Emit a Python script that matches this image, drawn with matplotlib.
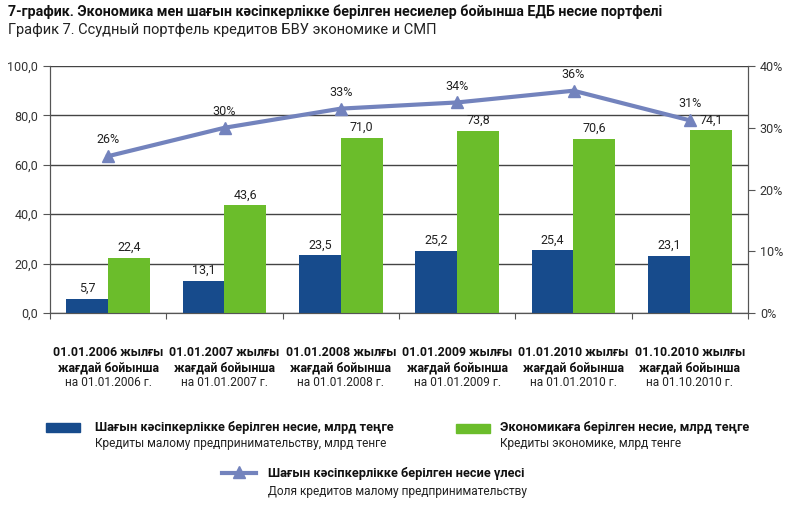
import matplotlib
matplotlib.use("Agg")
import matplotlib.pyplot as plt
import numpy as np
from matplotlib.patches import Rectangle
from matplotlib.lines import Line2D

plt.rcParams['font.family'] = ['Roboto', 'DejaVu Sans']

cats_kz = ["01.01.2006 жылғы", "01.01.2007 жылғы", "01.01.2008 жылғы",
           "01.01.2009 жылғы", "01.01.2010 жылғы", "01.10.2010 жылғы"]
cats_ru = ["на 01.01.2006 г.", "на 01.01.2007 г.", "на 01.01.2008 г.",
           "на 01.01.2009 г.", "на 01.01.2010 г.", "на 01.10.2010 г."]
small_biz = [5.7, 13.1, 23.5, 25.2, 25.4, 23.1]
economy = [22.4, 43.6, 71.0, 73.8, 70.6, 74.1]
share = [25.4, 30.0, 33.1, 34.1, 36.0, 31.2]
share_labels = ["26%", "30%", "33%", "34%", "36%", "31%"]

BLUE = "#174b8c"
GREEN = "#6bbd2b"
LINEC = "#7383bd"

fig = plt.figure(figsize=(8, 5.07), dpi=100)
ax = fig.add_axes([0.0625, 0.3826, 0.8725, 0.4872])
ax2 = ax.twinx()

x = np.arange(len(cats_kz))
w = 0.36
ax.bar(x - w/2, small_biz, w, color=BLUE, zorder=3)
ax.bar(x + w/2, economy, w, color=GREEN, zorder=3)
for xi, v in zip(x, small_biz):
    ax.text(xi - w/2, v + 1.5, f"{v:.1f}".replace('.', ','), ha='center', va='bottom', fontsize=9, color='#222')
for xi, v in zip(x, economy):
    ax.text(xi + w/2, v + 1.5, f"{v:.1f}".replace('.', ','), ha='center', va='bottom', fontsize=9, color='#222')

ax.set_xlim(-0.5, 5.5)
ax.set_ylim(0, 100)
ax.set_yticks([0, 20, 40, 60, 80, 100])
ax.set_yticklabels(["0,0", "20,0", "40,0", "60,0", "80,0", "100,0"], fontsize=9, color='#333')
ax.yaxis.grid(True, color='#444', linewidth=1.0, zorder=0)
ax.set_axisbelow(True)
ax.set_xticks(np.arange(-0.5, 6, 1))
ax.set_xticklabels([])
ax.tick_params(axis='x', length=4, color='#555')
ax.tick_params(axis='y', length=5, color='#555')
ax.spines['top'].set_visible(False)
ax2.spines['top'].set_visible(False)
for a in (ax, ax2):
    for s in ['left', 'right', 'bottom']:
        a.spines[s].set_color('#555')

ax2.plot(x, share, color=LINEC, linewidth=3, marker='^', markersize=9, zorder=4)
for xi, v, lab in zip(x, share, share_labels):
    ax2.text(xi, v + 1.6, lab, ha='center', va='bottom', fontsize=9, color='#222')
ax2.set_ylim(0, 40)
ax2.set_yticks([0, 10, 20, 30, 40])
ax2.set_yticklabels(["0%", "10%", "20%", "30%", "40%"], fontsize=9, color='#333')
ax2.tick_params(axis='y', length=5, color='#555')

# category labels
for xi, kz, ru in zip(x, cats_kz, cats_ru):
    xf = 0.0625 + 0.8725 * (xi + 0.5) / 6
    fig.text(xf, 1 - 353/507, kz, ha='center', va='center', fontsize=8.9, fontweight='bold', color='#111')
    fig.text(xf, 1 - 368/507, "жағдай бойынша", ha='center', va='center', fontsize=8.9, fontweight='bold', color='#111')
    fig.text(xf, 1 - 383/507, ru, ha='center', va='center', fontsize=8.6, color='#222')

# title
fig.text(8/800, 1 - 12/507, "7-график. Экономика мен шағын кәсіпкерлікке берілген несиелер бойынша ЕДБ несие портфелі",
         ha='left', va='center', fontsize=10.25, fontweight='bold', color='#111')
fig.text(8/800, 1 - 30/507, "График 7. Ссудный портфель кредитов БВУ экономике и СМП",
         ha='left', va='center', fontsize=10.5, color='#222')

# legend
fig.patches.append(Rectangle((46/800, 1 - 432/507), 34/800, 9/507, transform=fig.transFigure, color=BLUE))
fig.text(95/800, 1 - 427/507, "Шағын кәсіпкерлікке берілген несие, млрд теңге", ha='left', va='center',
         fontsize=9.2, fontweight='bold', color='#111')
fig.text(95/800, 1 - 443/507, "Кредиты малому предпринимательству, млрд тенге", ha='left', va='center',
         fontsize=8.6, color='#222')
fig.patches.append(Rectangle((456/800, 1 - 433/507), 34/800, 9/507, transform=fig.transFigure, color=GREEN))
fig.text(500/800, 1 - 428/507, "Экономикаға берілген несие, млрд теңге", ha='left', va='center',
         fontsize=9.2, fontweight='bold', color='#111')
fig.text(500/800, 1 - 444/507, "Кредиты экономике, млрд тенге", ha='left', va='center',
         fontsize=8.6, color='#222')
fig.lines.append(Line2D([222/800, 256/800], [1 - 473/507, 1 - 473/507], transform=fig.transFigure,
                        color=LINEC, linewidth=3))
fig.lines.append(Line2D([239/800], [1 - 472/507], transform=fig.transFigure, color=LINEC,
                        marker='^', markersize=8, linestyle='none'))
fig.text(268/800, 1 - 474/507, "Шағын кәсіпкерлікке берілген несие үлесі", ha='left', va='center',
         fontsize=9.2, fontweight='bold', color='#111')
fig.text(268/800, 1 - 491/507, "Доля кредитов малому предпринимательству", ha='left', va='center',
         fontsize=8.6, color='#222')

fig.savefig("out.png", dpi=100)
